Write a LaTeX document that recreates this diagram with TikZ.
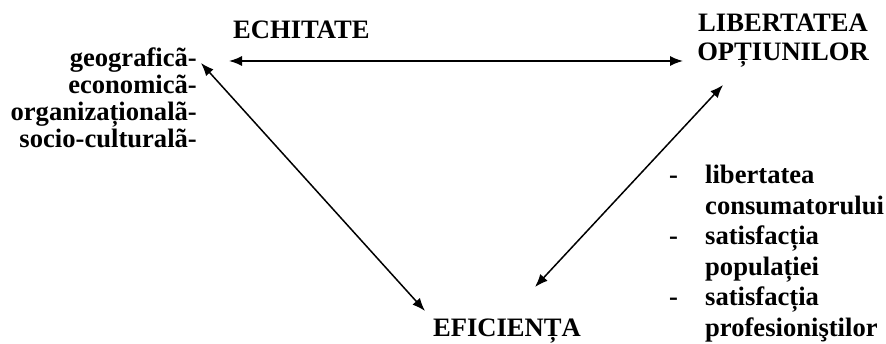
\documentclass[tikz,border=0pt]{standalone}
\usepackage{fontspec}
\setmainfont{Liberation Serif}
\usetikzlibrary{arrows.meta}
\begin{document}
\begin{tikzpicture}[x=1pt,y=-1pt,
  lbl/.style={inner sep=0pt,font=\fontsize{26.6}{28}\selectfont\bfseries},
  biarrow/.style={{Latex[length=13pt,width=10pt]}-{Latex[length=13pt,width=10pt]},line width=1.5pt}]
\useasboundingbox (0,0) rectangle (886,344);
% main labels
\node[lbl,anchor=base west] (ech) at (233,39) {ECHITATE};
\node[lbl,anchor=base] (lib1) at (783,32) {LIBERTATEA};
\node[lbl,anchor=base] (lib2) at (783,61) {OPȚIUNILOR};
\node[lbl,anchor=base] (efi) at (507,337) {EFICIENȚA};
% left list
\node[lbl,anchor=base east] (g1) at (197,67) {geograficã-};
\node[lbl,anchor=base east] (g2) at (197,94) {economicã-};
\node[lbl,anchor=base east] (g3) at (197,121) {organizaționalã-};
\node[lbl,anchor=base east] (g4) at (197,148) {socio-culturalã-};
% right list
\node[lbl,anchor=base west] (d1) at (669,184) {-};
\node[lbl,anchor=base west] (r1) at (705,184) {libertatea};
\node[lbl,anchor=base west] (r2) at (705,215) {consumatorului};
\node[lbl,anchor=base west] (d2) at (669,245) {-};
\node[lbl,anchor=base west] (r3) at (705,245) {satisfacția};
\node[lbl,anchor=base west] (r4) at (705,276) {populației};
\node[lbl,anchor=base west] (d3) at (669,306) {-};
\node[lbl,anchor=base west] (r5) at (705,306) {satisfacția};
\node[lbl,anchor=base west] (r6) at (705,337) {profesioniştilor};
% arrow end points
\coordinate (hL) at (229,61);
\coordinate (hR) at (683,61);
\coordinate (aT) at (201,63);
\coordinate (aB) at (425,311);
\coordinate (bT) at (723,85);
\coordinate (bB) at (535,287);
\draw[biarrow] (hL) -- (hR);
\draw[biarrow] (aT) -- (aB);
\draw[biarrow] (bT) -- (bB);
\end{tikzpicture}
\end{document}
